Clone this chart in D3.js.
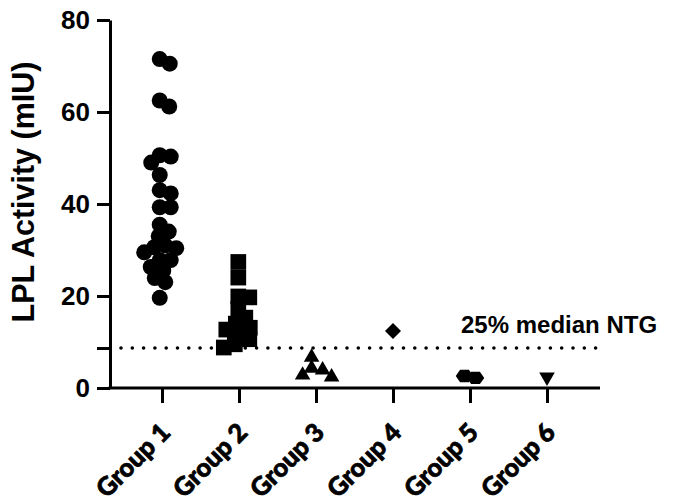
<!DOCTYPE html>
<html><head><meta charset="utf-8">
<script src="https://cdn.jsdelivr.net/npm/d3@7"></script>
<style>body{margin:0;background:#fff}svg{display:block}</style>
</head><body><svg id="c" width="688" height="503"></svg>
<script>
// ---- data ----
const categories = ["Group 1","Group 2","Group 3","Group 4","Group 5","Group 6"];
const group1 = [71.5, 70.5, 62.5, 61.2, 50.6, 50.3, 49.0, 46.3, 43.0, 42.3, 39.3, 39.3, 35.5, 34.0, 33.0, 31.0, 30.6, 30.4, 29.5, 27.8, 27.8, 26.3, 25.5, 23.9, 23.0, 19.6];
const group2 = [27.4, 24.0, 19.9, 19.7, 17.2, 15.3, 14.0, 13.1, 12.7, 11.7, 10.6, 9.5, 8.8];
const group3 = [6.7, 4.3, 3.9, 2.8, 2.4];
const group4 = [12.4];
const group5 = [2.6, 2.2];
const group6 = [2.4];
const yTicks = [0, 20, 40, 60, 80];
const referenceValue = 8.7;
const referenceLabel = "25% median NTG";
const yTitle = "LPL Activity (mIU)";

const groups = [group1, group2, group3, group4, group5, group6];

// ---- chart ----
const svg = d3.select("#c");
const left = 110, right = 600;
const x = d3.scalePoint().domain(categories).range([162, 547]);
const y = d3.scaleLinear().domain([0, 80]).range([388, 20]);

const tickFont = "'Liberation Sans', Arial, sans-serif";

// y axis
const yAxis = d3.axisLeft(y)
  .tickValues(yTicks.concat([referenceValue]))
  .tickFormat(d => yTicks.includes(d) ? d : "")
  .tickSize(13).tickSizeOuter(0).tickPadding(7);
const gy = svg.append("g").attr("transform", `translate(${left},0)`).call(yAxis);
gy.select(".domain").attr("stroke-width", 3).attr("stroke", "#000");
gy.selectAll(".tick line").attr("stroke-width", 3).attr("stroke", "#000");
gy.selectAll(".tick text").attr("font-family", tickFont).attr("font-weight", "bold")
  .attr("font-size", 26).attr("fill", "#000");

// x axis
const xAxis = d3.axisBottom(x).tickSize(15).tickSizeOuter(0).tickFormat("");
const gx = svg.append("g").attr("transform", `translate(0,${y(0)})`).call(xAxis);
gx.select(".domain").remove();
gx.selectAll(".tick line").attr("stroke-width", 3).attr("stroke", "#000");
gx.append("line").attr("x1", left - 1.5).attr("x2", right).attr("y1", 0).attr("y2", 0)
  .attr("stroke", "#000").attr("stroke-width", 3);

// x labels
svg.append("g").selectAll("text").data(categories).join("text")
  .attr("transform", d => `translate(${x(d) + 10},${y(0) + 46}) rotate(-45)`)
  .attr("text-anchor", "end")
  .attr("font-family", "Lato, 'Open Sans', sans-serif")
  .attr("font-weight", 900)
  .attr("font-size", 25.5)
  .attr("fill", "#000")
  .attr("stroke", "#000").attr("stroke-width", 0.7)
  .text(d => d);

// y title
svg.append("text")
  .attr("transform", `translate(34,${(y(0) + y(80)) / 2 - 12}) rotate(-90)`)
  .attr("text-anchor", "middle")
  .attr("font-family", tickFont).attr("font-weight", "bold").attr("font-size", 30.5)
  .attr("fill", "#000").text(yTitle);

// reference line
svg.append("line").attr("x1", 121).attr("x2", right).attr("y1", y(referenceValue)).attr("y2", y(referenceValue))
  .attr("stroke", "#000").attr("stroke-width", 3.6).attr("stroke-linecap", "round")
  .attr("stroke-dasharray", "0,11.3");
svg.append("text").attr("x", 461).attr("y", y(referenceValue) - 15)
  .attr("font-family", tickFont).attr("font-weight", "bold").attr("font-size", 24)
  .attr("fill", "#000").text(referenceLabel);

// symbols
const hexagon = { draw(ctx, size) {
  const r = Math.sqrt(size / (1.5 * Math.sqrt(3)));
  for (let i = 0; i < 6; i++) {
    const a = Math.PI / 3 * i;
    const px = r * Math.cos(a), py = r * Math.sin(a) * 0.82;
    i ? ctx.lineTo(px, py) : ctx.moveTo(px, py);
  }
  ctx.closePath();
}};
const markers = [
  { type: d3.symbolCircle, size: 201, rot: 0 },
  { type: d3.symbolSquare, size: 246, rot: 0 },
  { type: d3.symbolTriangle, size: 105, rot: 0 },
  { type: d3.symbolSquare, size: 128, rot: 45 },
  { type: hexagon, size: 200, rot: 0 },
  { type: d3.symbolTriangle, size: 105, rot: 180 }
];

// simple beeswarm spread, mean-centred on the category
function swarm(values, minDist) {
  const placed = [];
  const offs = new Array(values.length);
  const order = values.map((v, i) => i).sort((a, b) => values[b] - values[a]);
  for (const i of order) {
    const py = y(values[i]);
    let off = 0;
    for (let k = 0; k < 400; k++) {
      const cand = (k % 2 ? 1 : -1) * Math.ceil(k / 2) * 0.5;
      if (placed.every(p => (p[0] - cand) ** 2 + (p[1] - py) ** 2 >= minDist * minDist)) { off = cand; break; }
    }
    placed.push([off, py]);
    offs[i] = off;
  }
  const mid = d3.mean(offs);
  return offs.map(o => o - mid);
}

groups.forEach((vals, gi) => {
  const m = markers[gi];
  const offs = swarm(vals, 11);
  svg.append("g").selectAll("path").data(vals).join("path")
    .attr("d", d3.symbol().type(m.type).size(m.size))
    .attr("transform", (d, i) => `translate(${x(categories[gi]) + offs[i]},${y(d)}) rotate(${m.rot})`)
    .attr("fill", "#000");
});
</script>
</body></html>
